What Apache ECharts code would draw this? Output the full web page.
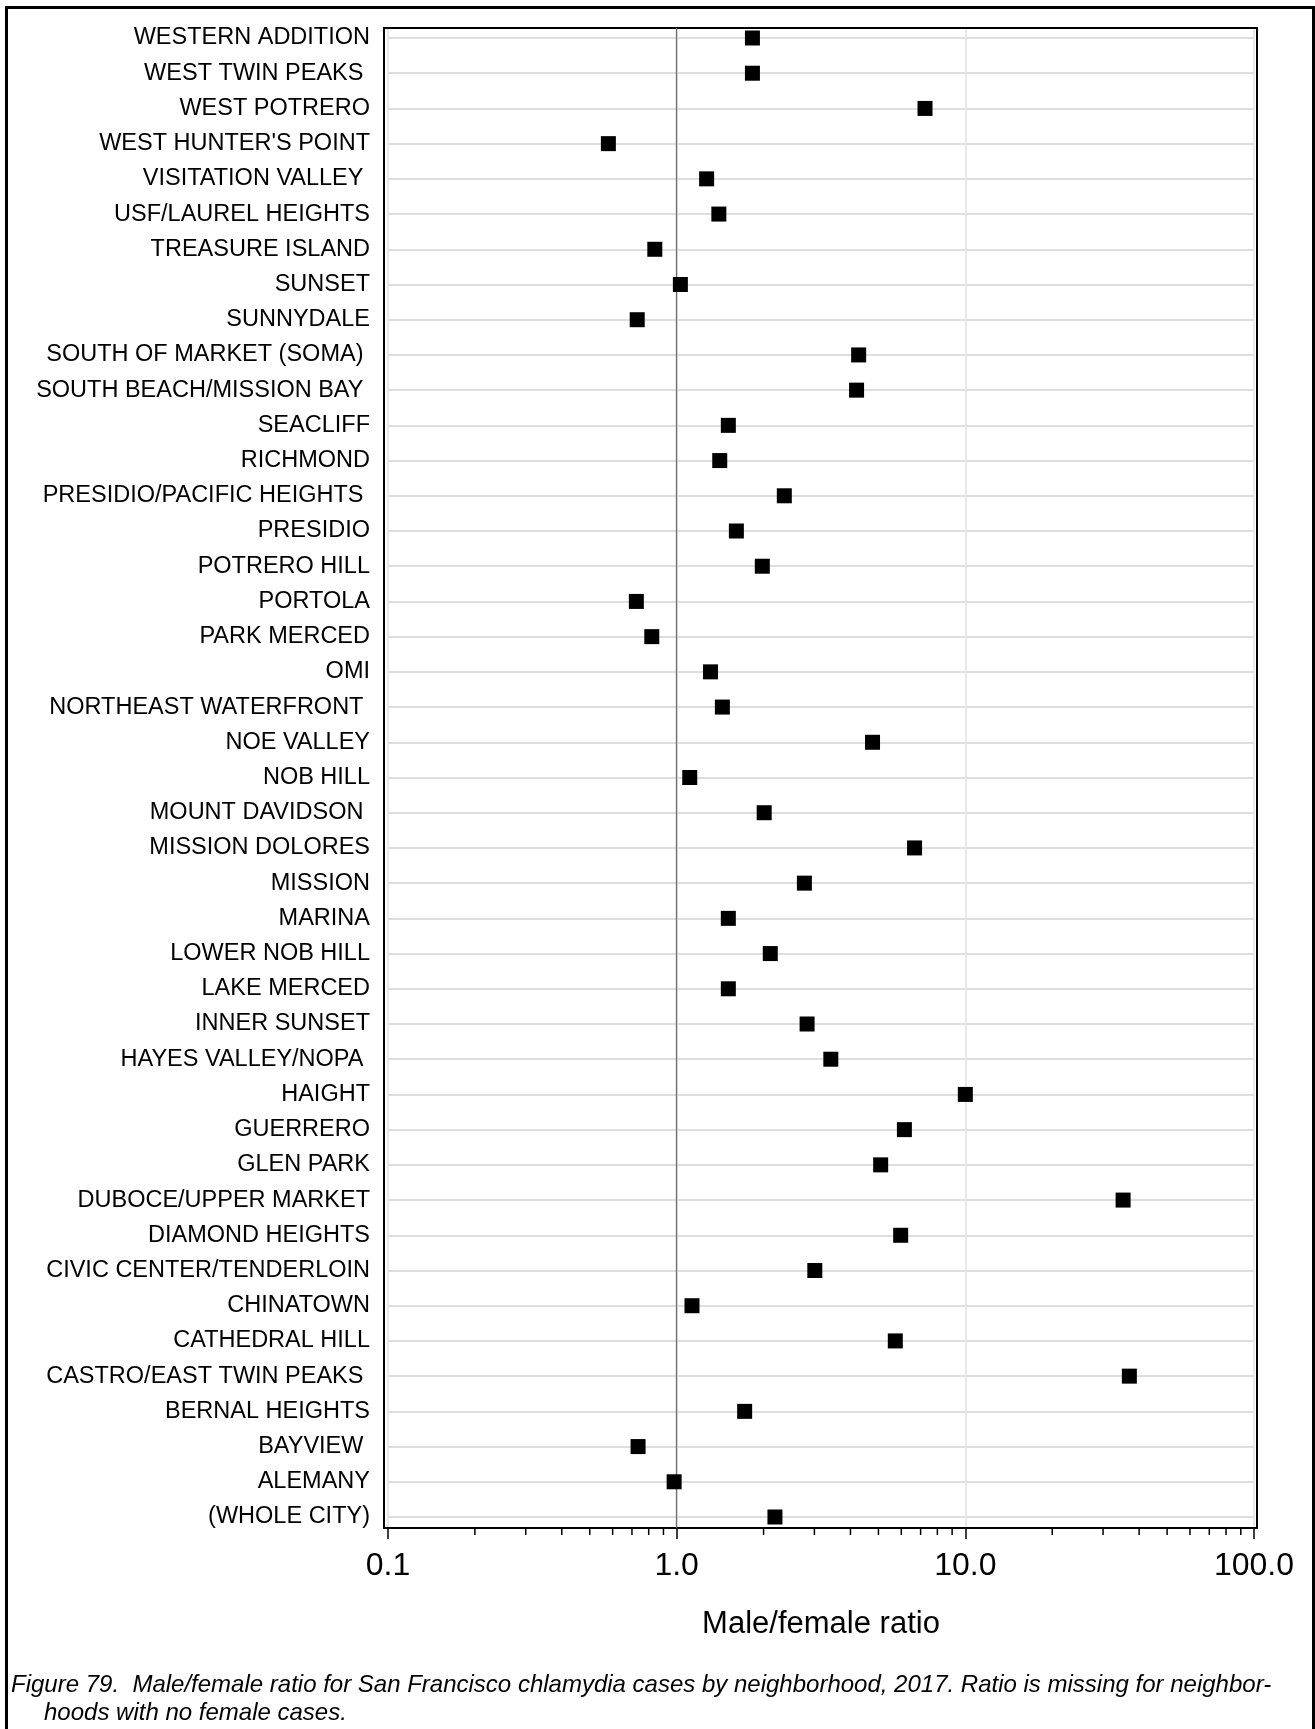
<!DOCTYPE html>
<html>
<head>
<meta charset="utf-8">
<script src="https://cdn.jsdelivr.net/npm/echarts@6/dist/echarts.min.js"></script>
<style>
  html, body { margin: 0; padding: 0; background: #fff; }
  #chart { width: 1315px; height: 1729px; }
</style>
</head>
<body>
<div id="chart"></div>
<script>
// ---- data ----
const categories = [
  "WESTERN ADDITION", "WEST TWIN PEAKS ", "WEST POTRERO", "WEST HUNTER'S POINT",
  "VISITATION VALLEY ", "USF/LAUREL HEIGHTS", "TREASURE ISLAND", "SUNSET",
  "SUNNYDALE", "SOUTH OF MARKET (SOMA) ", "SOUTH BEACH/MISSION BAY ", "SEACLIFF",
  "RICHMOND", "PRESIDIO/PACIFIC HEIGHTS ", "PRESIDIO", "POTRERO HILL",
  "PORTOLA", "PARK MERCED", "OMI", "NORTHEAST WATERFRONT ",
  "NOE VALLEY", "NOB HILL", "MOUNT DAVIDSON ", "MISSION DOLORES",
  "MISSION", "MARINA", "LOWER NOB HILL", "LAKE MERCED",
  "INNER SUNSET", "HAYES VALLEY/NOPA ", "HAIGHT", "GUERRERO",
  "GLEN PARK", "DUBOCE/UPPER MARKET", "DIAMOND HEIGHTS", "CIVIC CENTER/TENDERLOIN",
  "CHINATOWN", "CATHEDRAL HILL", "CASTRO/EAST TWIN PEAKS ", "BERNAL HEIGHTS",
  "BAYVIEW ", "ALEMANY", "(WHOLE CITY)"
];
const ratios = [
  1.83, 1.83, 7.25, 0.58,
  1.27, 1.40, 0.84, 1.03,
  0.73, 4.27, 4.20, 1.51,
  1.41, 2.36, 1.61, 1.98,
  0.725, 0.82, 1.31, 1.44,
  4.77, 1.11, 2.01, 6.67,
  2.77, 1.51, 2.11, 1.51,
  2.83, 3.42, 10.0, 6.15,
  5.09, 35.2, 5.97, 3.01,
  1.13, 5.72, 37.0, 1.72,
  0.735, 0.98, 2.19
];
const xMin = 0.1, xMax = 100;
const minorTickValues = [0.2,0.3,0.4,0.5,0.6,0.7,0.8,0.9, 2,3,4,5,6,7,8,9, 20,30,40,50,60,70,80,90];
const referenceValue = 1.0;
const xAxisTitle = "Male/female ratio";
const captionLine1 = "Figure 79.  Male/female ratio for San Francisco chlamydia cases by neighborhood, 2017. Ratio is missing for neighbor-";
const captionLine2 = "hoods with no female cases.";

const FONT = "'Liberation Sans', Arial, Helvetica, sans-serif";

const chart = echarts.init(document.getElementById('chart'), null, { renderer: 'canvas' });

const option = {
  animation: false,
  backgroundColor: '#ffffff',
  grid: [
    // 0: frame
    { left: 384, top: 28, width: 873, height: 1500, show: true, borderColor: '#000', borderWidth: 2, backgroundColor: 'transparent', z: 5 },
    // 1: x axis grid
    { left: 388, top: 28, width: 866, height: 1500 },
    // 2: data grid
    { left: 388, top: 38, width: 866, height: 1479 }
  ],
  xAxis: [
    {
      gridIndex: 1, type: 'log', logBase: 10, min: xMin, max: xMax,
      axisLine: { show: false },
      axisTick: { show: true, length: 11, lineStyle: { color: '#000', width: 1.5 } },
      axisLabel: { show: true, margin: 22, fontFamily: FONT, fontSize: 32, color: '#000',
        formatter: v => Number(v).toFixed(1) },
      splitLine: { show: true, lineStyle: { color: '#e2e2e2', width: 1.5 } },
      name: xAxisTitle, nameLocation: 'middle', nameGap: 81,
      nameTextStyle: { fontFamily: FONT, fontSize: 31, color: '#000' }
    },
    {
      gridIndex: 2, type: 'log', logBase: 10, min: xMin, max: xMax, show: false
    },
    { gridIndex: 0, type: 'value', show: false }
  ],
  yAxis: [
    { gridIndex: 1, type: 'value', min: 0, max: 1, show: false },
    {
      gridIndex: 2, type: 'category', data: categories, inverse: true, boundaryGap: false,
      axisLine: { show: false }, axisTick: { show: false },
      axisLabel: { interval: 0, margin: 18, fontFamily: FONT, fontSize: 23.5, color: '#000' },
      splitLine: { show: true, interval: 0, lineStyle: { color: '#dedede', width: 2 } }
    },
    { gridIndex: 0, type: 'value', show: false }
  ],
  series: [
    {
      type: 'custom', xAxisIndex: 0, yAxisIndex: 0, silent: true, z: 3,
      data: minorTickValues.map(v => [v, 0]),
      renderItem: function (params, api) {
        const p = api.coord([api.value(0), 0]);
        return { type: 'line', shape: { x1: p[0], y1: p[1], x2: p[0], y2: p[1] + 7 },
          style: { stroke: '#000', lineWidth: 1.5 } };
      },
      markLine: {
        silent: true, symbol: 'none', label: { show: false },
        lineStyle: { color: '#6e6e6e', width: 1.3, type: 'solid', opacity: 1 },
        data: [{ xAxis: referenceValue }]
      }
    },
    {
      type: 'scatter', xAxisIndex: 1, yAxisIndex: 1, z: 10,
      symbol: 'rect', symbolSize: 15,
      itemStyle: { color: '#000', opacity: 1 },
      data: ratios.map((v, i) => [v, categories[i]])
    }
  ],
  graphic: [
    { type: 'rect', left: 4, top: 5, shape: { width: 1307, height: 1760 },
      style: { fill: 'none', stroke: '#000', lineWidth: 3 }, silent: true },
    { type: 'text', left: 11, top: 1673,
      style: { text: captionLine1, font: 'italic 24px ' + FONT, fill: '#000' } },
    { type: 'text', left: 44, top: 1701,
      style: { text: captionLine2, font: 'italic 24px ' + FONT, fill: '#000' } }
  ]
};
chart.setOption(option);
</script>
</body>
</html>
